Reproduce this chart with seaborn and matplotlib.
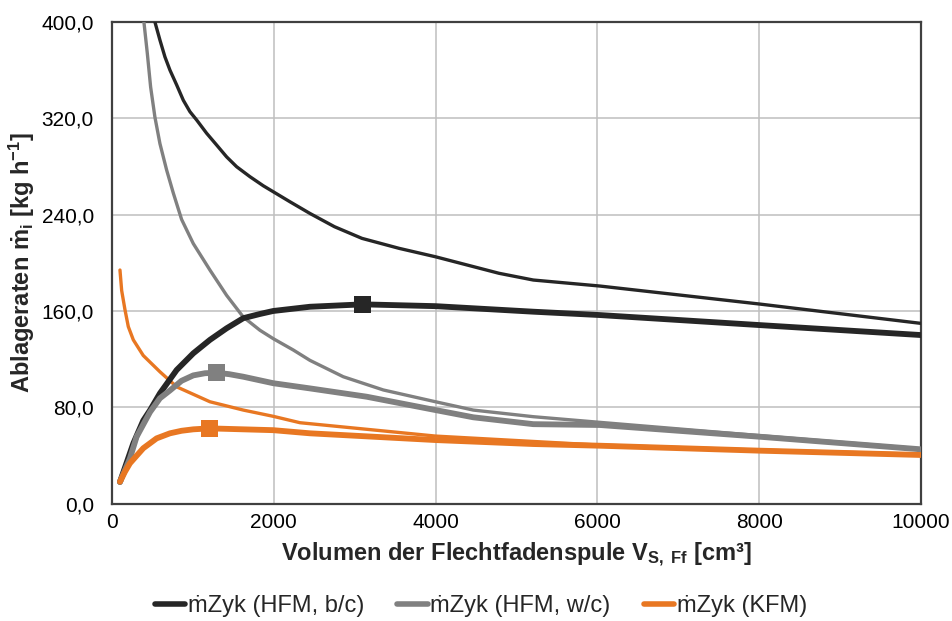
import matplotlib
matplotlib.use("Agg")
import matplotlib.pyplot as plt
from matplotlib.ticker import FuncFormatter, MultipleLocator
import seaborn as sns
import pandas as pd

# ---- data -------------------------------------------------------------
# cycle-based deposition rate, HFM b/c (thick curve with maximum marker)
v_zyk_bc = [99, 264, 387, 470, 593, 800, 1005, 1211, 1417, 1623, 1829, 1994,
            2447, 3099, 4000, 5208, 6032, 8000, 10000]
m_zyk_bc = [18, 50, 69, 77.5, 91.6, 111, 124.8, 136, 145.6, 154, 157.5, 160,
            163.5, 165.5, 164, 159.4, 156.6, 148.3, 140]
# companion HFM b/c curve (thin)
v_bc_2 = [531, 593, 655, 717, 800, 882, 964, 1047, 1170, 1294, 1417, 1541,
          1706, 1870, 1994, 2200, 2447, 2750, 3090, 3550, 4000, 4784, 5208,
          6032, 8000, 10000]
m_bc_2 = [400, 385, 371, 360, 347.7, 335, 325.5, 318.6, 307.6, 297.8, 288,
          279.8, 271.5, 264, 259, 250.7, 241, 230, 220.3, 212, 205, 191.3,
          185.7, 180.7, 165.8, 149.7]

# cycle-based deposition rate, HFM w/c
v_zyk_wc = [99, 222, 305, 470, 593, 717, 860, 1005, 1150, 1294, 1450, 1623,
            1994, 2447, 3148, 4000, 4466, 5208, 6032, 8000, 10000]
m_zyk_wc = [18, 37.6, 55.6, 76, 87.5, 94, 102, 106.5, 108.3, 108.7, 107.5,
            105.4, 100, 95.7, 88.8, 77.7, 71.7, 66, 65.3, 55.6, 45.1]
v_wc_2 = [395, 437, 478, 531, 593, 676, 758, 861, 1005, 1211, 1417, 1623,
          1829, 1994, 2241, 2447, 2859, 3354, 4000, 4466, 5208, 6032, 8000,
          10000]
m_wc_2 = [400, 374, 346, 321, 299, 277, 258, 236, 216, 194, 173, 155, 144,
          137, 127.6, 119, 105.4, 94.4, 84.6, 77.7, 72.2, 67.5, 56.5, 45.5]

# cycle-based deposition rate, KFM
v_zyk_kfm = [99, 161, 222, 387, 552, 717, 860, 1005, 1203, 1994, 2447, 4000,
             5208, 6032, 8000, 10000]
m_zyk_kfm = [18.2, 26.5, 33.5, 46, 54.2, 58.4, 60.5, 61.7, 62.5, 61, 58.4,
             52.8, 49.5, 48.1, 44, 40.4]
v_kfm_2 = [99, 120, 161, 202, 264, 387, 593, 800, 1211, 1623, 1994, 2324,
           4000, 6032, 8000, 10000]
m_kfm_2 = [194, 177, 161, 147, 136, 123, 109.5, 97, 84.6, 77.7, 72.5, 67.2,
           56.1, 48.6, 44.5, 41]

# maxima of the cycle-based curves
max_v = [3099, 1294, 1203]
max_m = [165.5, 108.7, 62.5]

series_names = ["ṁZyk (HFM, b/c)", "ṁZyk (HFM, w/c)", "ṁZyk (KFM)"]
series_colors = ["#262626", "#808080", "#E87722"]
x_ticks = [0, 2000, 4000, 6000, 8000, 10000]

# ---- styling ----------------------------------------------------------
sns.set_theme(style="whitegrid")
plt.rcParams["font.family"] = ["Liberation Sans", "DejaVu Sans"]
plt.rcParams["mathtext.fontset"] = "custom"
plt.rcParams["mathtext.rm"] = "Liberation Sans"
plt.rcParams["mathtext.bf"] = "Liberation Sans:bold"
plt.rcParams["mathtext.it"] = "Liberation Sans:italic"
plt.rcParams["lines.solid_capstyle"] = "round"
plt.rcParams["lines.solid_joinstyle"] = "round"

fig = plt.figure(figsize=(9.52, 6.21), dpi=100)
ax = fig.add_axes([0.1176, 0.189, 0.8498, 0.7756])

palette = dict(zip(series_names, series_colors))

# thin companion curves
for vx, my, col in [(v_bc_2, m_bc_2, series_colors[0]),
                    (v_wc_2, m_wc_2, series_colors[1]),
                    (v_kfm_2, m_kfm_2, series_colors[2])]:
    sns.lineplot(x=vx, y=my, ax=ax, color=col, linewidth=2.4, sort=False,
                 estimator=None, legend=False, zorder=3)

# thick cycle-based curves
long = pd.concat([
    pd.DataFrame({"V": v_zyk_bc, "m": m_zyk_bc, "Reihe": series_names[0]}),
    pd.DataFrame({"V": v_zyk_wc, "m": m_zyk_wc, "Reihe": series_names[1]}),
    pd.DataFrame({"V": v_zyk_kfm, "m": m_zyk_kfm, "Reihe": series_names[2]}),
], ignore_index=True)
sns.lineplot(data=long, x="V", y="m", hue="Reihe", palette=palette, ax=ax,
             linewidth=4.2, sort=False, estimator=None, zorder=4)

# maximum markers
sns.scatterplot(x=max_v, y=max_m, hue=series_names, palette=palette,
                marker="s", s=150, linewidth=0, ax=ax, legend=False, zorder=5)

# ---- axes -------------------------------------------------------------
ax.set_xlim(0, 10000)
ax.set_ylim(0, 400)
ax.set_xticks(x_ticks)
ax.yaxis.set_major_locator(MultipleLocator(80))
ax.yaxis.set_major_formatter(FuncFormatter(lambda v, p: f"{v:.1f}".replace(".", ",")))
ax.tick_params(axis="both", length=0, labelsize=15, colors="#000000")
ax.tick_params(axis="x", pad=7)
ax.tick_params(axis="y", pad=13)
ax.grid(True, color="#BFBFBF", linewidth=1.1)
ax.set_facecolor("white")
for side, sp in ax.spines.items():
    sp.set_visible(True)
    sp.set_color("#404040")
    sp.set_linewidth(1.6)

ax.set_xlabel(r"Volumen der Flechtfadenspule V$_{\mathbf{S,\ Ff}}$ [cm³]",
              fontsize=17, fontweight="bold", labelpad=6)
ax.set_ylabel(r"Ablageraten ṁ$_{\mathbf{i}}$ [kg h$^{\mathbf{-1}}$]",
              fontsize=17, fontweight="bold", labelpad=3)

handles, labels = ax.get_legend_handles_labels()
ax.get_legend().remove()
leg = fig.legend(handles, labels, loc="center", bbox_to_anchor=(0.505, 0.024),
                 ncol=3, frameon=False, fontsize=17, handlelength=1.3,
                 handletextpad=0.1, columnspacing=1.4)
for line in leg.get_lines():
    line.set_linewidth(4)

fig.savefig("out.png", dpi=100, facecolor="white")
